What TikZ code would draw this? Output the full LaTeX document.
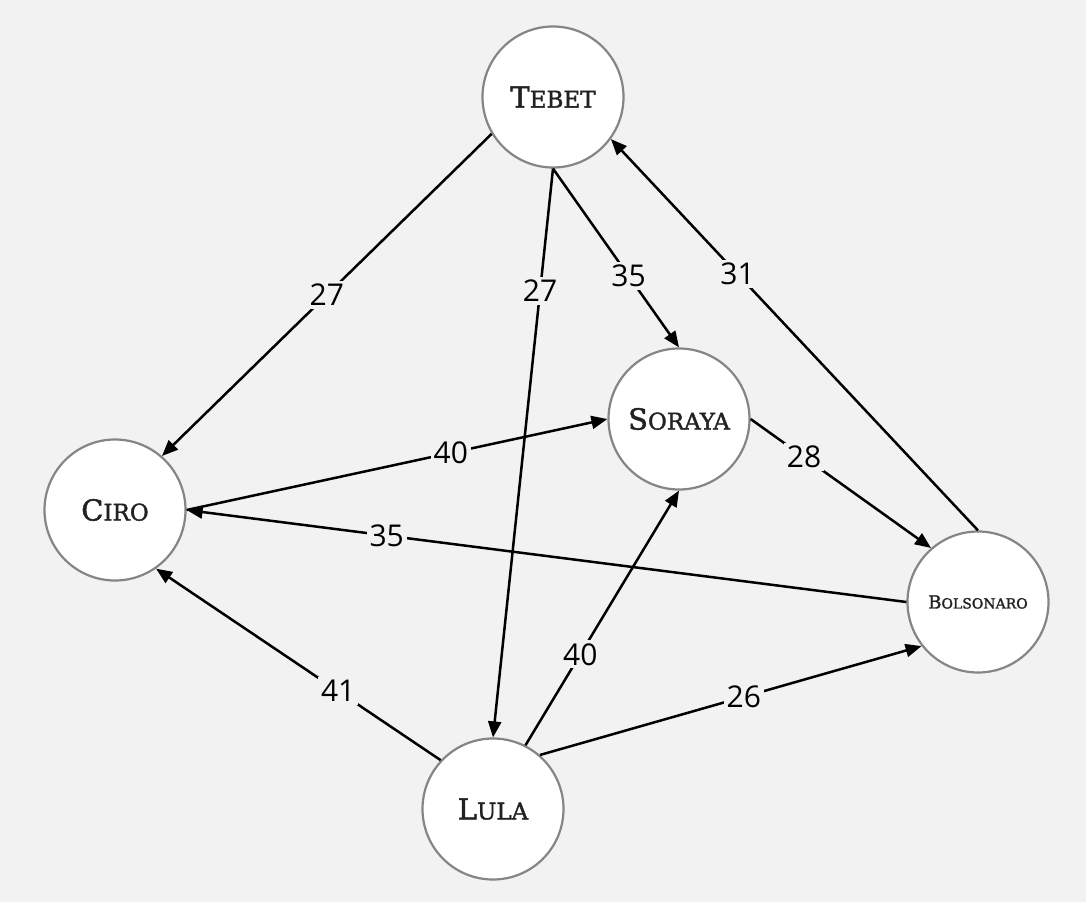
\documentclass[tikz,border=0pt]{standalone}
\usepackage{fontspec}
\setmainfont{Open Sans}
\newfontfamily\slabfont[FakeBold=1.6]{DejaVu Serif}
\usetikzlibrary{arrows.meta}
\definecolor{pagebg}{HTML}{F2F2F2}
\definecolor{ringgray}{HTML}{858585}
\definecolor{inkdark}{HTML}{222222}
% fake small caps: first letter large, the rest smaller
\newcommand{\capname}[4]{{\slabfont\color{inkdark}{\fontsize{#3}{#3}\selectfont #1}{\fontsize{#4}{#4}\selectfont #2}}}
\tikzset{
  person/.style={circle, draw=ringgray, line width=2.2pt, fill=white,
    minimum size=141pt, inner sep=0pt},
  link/.style={line width=2.5pt, -{Triangle[length=16pt,width=13pt]}},
  weight/.style={fill=pagebg, inner sep=3pt, text=black,
    font=\fontsize{30}{30}\selectfont}
}
\begin{document}
\begin{tikzpicture}[x=1pt, y=-1pt]
  \fill[pagebg] (0,0) rectangle (1086,902);
  \useasboundingbox (0,0) rectangle (1086,902);

  \node[person] (tebet) at (553,97)  {\capname{T}{EBET}{29}{23}};
  \node[person] (ciro)  at (115,510) {\capname{C}{IRO}{29}{23}};
  \node[person] (soraya) at (679,419) {\capname{S}{ORAYA}{29}{23}};
  \node[person] (bolso) at (978,602) {\capname{B}{OLSONARO}{18}{14}};
  \node[person] (lula)  at (493,809) {\capname{L}{ULA}{29}{23}};

  \draw[link] (tebet.211) -- node[weight, pos=0.5] {27} (ciro.49);
  \draw[link] (tebet.270) -- node[weight, pos=0.215] {27} (lula.90);
  \draw[link] (tebet.270) -- node[weight, pos=0.6] {35} (soraya.90);
  \draw[link] (bolso.90) -- node[weight, pos=0.655] {31} (tebet.324);
  \draw[link] (ciro.0) -- node[weight, pos=0.628] {40} (soraya.180);
  \draw[link] (bolso.180) -- node[weight, pos=0.722] {35} (ciro.0);
  \draw[link] (soraya.0) -- node[weight, pos=0.296] {28} (bolso.131.6);
  \draw[link] (lula.137.8) -- node[weight, pos=0.36] {41} (ciro.305.2);
  \draw[link] (lula.63.4) -- node[weight, pos=0.357] {40} (soraya.270);
  \draw[link] (lula.49.4) -- node[weight, pos=0.534] {26} (bolso.218.9);
\end{tikzpicture}
\end{document}
